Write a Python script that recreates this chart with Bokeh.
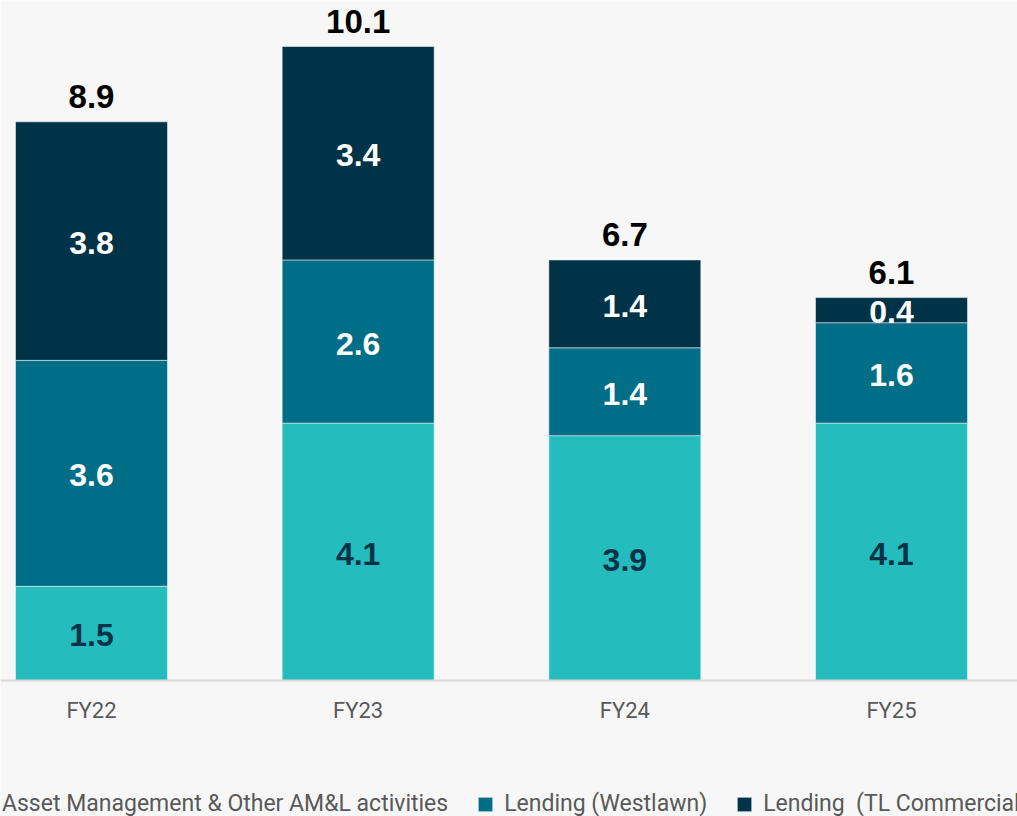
from bokeh.plotting import figure
from bokeh.models import (ColumnDataSource, Range1d, FixedTicker, LinearAxis,
                          Legend, LegendItem)
from bokeh.core.properties import value
from bokeh.embed import file_html
from bokeh.resources import INLINE

# ---- data ----
categories = ["FY22", "FY23", "FY24", "FY25"]
asset_mgmt = [1.5, 4.1, 3.9, 4.1]
lending_westlawn = [3.6, 2.6, 1.4, 1.6]
lending_tl = [3.8, 3.4, 1.4, 0.4]
totals = [8.9, 10.1, 6.7, 6.1]
series_names = ["Asset Management & Other AM&L activities",
                "Lending (Westlawn)",
                "Lending  (TL Commercial)"]

colors = ["#24BCBC", "#006E87", "#003347"]
label_colors = ["#003347", "#FFFFFF", "#FFFFFF"]
BG = "#F7F7F7"

xs = list(range(len(categories)))
series = [asset_mgmt, lending_westlawn, lending_tl]

p = figure(width=1017, height=816, output_backend="svg", toolbar_location=None,
           x_range=Range1d(-0.3412, 3.4725), y_range=Range1d(-2.167, 10.833),
           min_border=0, background_fill_color=BG, border_fill_color=BG,
           outline_line_color=None)
p.xaxis.visible = False
p.yaxis.visible = False
p.xgrid.visible = False
p.ygrid.visible = False

renderers = []
bottom = [0.0] * len(xs)
for vals, col, lc in zip(series, colors, label_colors):
    top = [b + v for b, v in zip(bottom, vals)]
    mid = [(b + t) / 2 for b, t in zip(bottom, top)]
    src = ColumnDataSource(dict(x=xs, bottom=bottom, top=top, mid=mid,
                                lbl=[f"{v:.1f}" for v in vals]))
    r = p.vbar(x="x", bottom="bottom", top="top", width=0.57, source=src,
               fill_color=col, line_color="#FFFFFF", line_width=1, line_alpha=0.5)
    renderers.append(r)
    p.text(x="x", y="mid", text="lbl", source=src, text_align="center",
           text_baseline="middle", text_color=lc, y_offset=2,
           text_font=value("Liberation Sans"), text_font_style="bold",
           text_font_size="32px")
    bottom = top

tsrc = ColumnDataSource(dict(x=xs, y=totals, lbl=[f"{v:.1f}" for v in totals]))
p.text(x="x", y="y", text="lbl", source=tsrc, text_align="center",
       text_baseline="middle", text_color="#000000", y_offset=-25,
       text_font=value("Liberation Sans"), text_font_style="bold",
       text_font_size="33px")

# x axis drawn at the baseline inside the frame
xaxis = LinearAxis(fixed_location=0, ticker=FixedTicker(ticks=xs),
                   major_label_overrides={i: c for i, c in zip(xs, categories)})
xaxis.axis_line_color = "#D9D9D9"
xaxis.axis_line_width = 2
xaxis.major_tick_line_color = None
xaxis.minor_tick_line_color = None
xaxis.major_label_standoff = 12
xaxis.major_label_text_font = "Roboto"
xaxis.major_label_text_font_size = "22px"
xaxis.major_label_text_color = "#595959"
p.add_layout(xaxis, "below")

legend = Legend(items=[LegendItem(label=n, renderers=[r]) for n, r in zip(series_names, renderers)],
                orientation="horizontal", location=(-26, -1),
                glyph_width=18, glyph_height=18, label_standoff=10, spacing=28,
                padding=0, margin=0, border_line_color=None,
                background_fill_alpha=0,
                label_text_font="Roboto",
                label_text_font_size="23px", label_text_color="#595959")
p.add_layout(legend)

html = file_html(p, INLINE)
html = html.replace("<body>", '<body style="background:#F7F7F7">', 1)
open("out.html", "w").write(html)
